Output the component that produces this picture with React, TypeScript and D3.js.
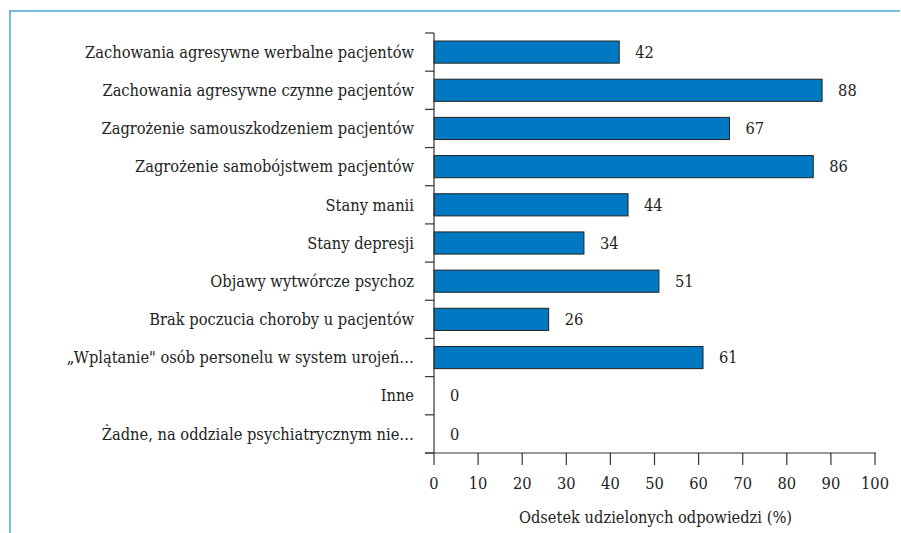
import React from "react";
import * as d3 from "d3";

const categories = [
  "Zachowania agresywne werbalne pacjentów",
  "Zachowania agresywne czynne pacjentów",
  "Zagrożenie samouszkodzeniem pacjentów",
  "Zagrożenie samobójstwem pacjentów",
  "Stany manii",
  "Stany depresji",
  "Objawy wytwórcze psychoz",
  "Brak poczucia choroby u pacjentów",
  "„Wplątanie\" osób personelu w system urojeń…",
  "Inne",
  "Żadne, na oddziale psychiatrycznym nie…",
];
const values = [42, 88, 67, 86, 44, 34, 51, 26, 61, 0, 0];
const xTicks = [0, 10, 20, 30, 40, 50, 60, 70, 80, 90, 100];
const xTitle = "Odsetek udzielonych odpowiedzi (%)";

const W = 901;
const H = 533;
const font = '"DejaVu Serif Condensed", "DejaVu Serif", serif';

export default function App() {
  const x = d3.scaleLinear().domain([0, 100]).range([434, 875]);
  const y = d3.scaleBand<string>().domain(categories).range([33, 453]).paddingInner(0.42).paddingOuter(0.21);
  const step = y.step();
  const boundaries = d3.range(categories.length + 1).map((i) => 33 + i * step);
  const ts = { fontFamily: font, fontSize: 16.3, fontStretch: "condensed" } as React.CSSProperties;
  return (
    <svg width={W} height={H} style={{ position: "absolute", left: 0, top: 0, background: "#fff" }}>
      <line x1={9} x2={900} y1={11} y2={11} stroke="#4aa3d8" strokeWidth={1.5} />
      <line x1={10} x2={10} y1={11} y2={533} stroke="#4aa3d8" strokeWidth={1.5} />
      {categories.map((c, i) => (
        <g key={c}>
          <rect
            x={x(0)}
            y={y(c)!}
            width={x(values[i]) - x(0)}
            height={y.bandwidth()}
            fill="#0079c2"
            stroke="#222"
            strokeWidth={1}
          />
          <text x={x(values[i]) + 16} y={y(c)! + y.bandwidth() / 2} dy="0.35em" style={ts} fill="#222">
            {values[i]}
          </text>
          <text x={414} y={y(c)! + y.bandwidth() / 2} dy="0.35em" textAnchor="end" style={ts} fill="#222">
            {c}
          </text>
        </g>
      ))}
      {boundaries.map((b, i) => (
        <line key={i} x1={425} x2={434} y1={b} y2={b} stroke="#333" strokeWidth={1.2} />
      ))}
      <line x1={434} x2={434} y1={33} y2={453} stroke="#333" strokeWidth={1.2} />
      <line x1={425} x2={876} y1={453} y2={453} stroke="#333" strokeWidth={1.2} />
      {xTicks.map((t) => (
        <g key={t}>
          <line x1={x(t)} x2={x(t)} y1={453} y2={465} stroke="#333" strokeWidth={1.2} />
          <text x={x(t)} y={483} dy="0.35em" textAnchor="middle" style={ts} fill="#222">
            {t}
          </text>
        </g>
      ))}
      <text x={x(50) + 1} y={517} dy="0.35em" textAnchor="middle" style={ts} fill="#222">
        {xTitle}
      </text>
    </svg>
  );
}
